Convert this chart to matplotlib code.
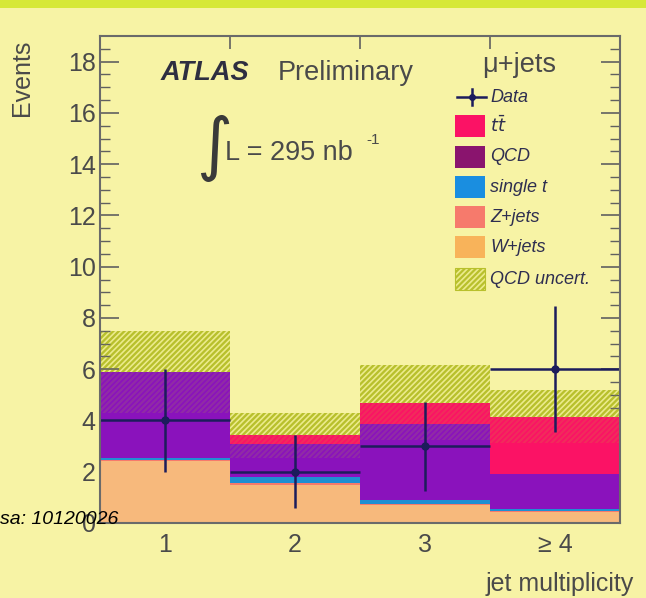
import numpy as np
import matplotlib
matplotlib.use("Agg")
import matplotlib.pyplot as plt
from matplotlib.patches import Rectangle
from matplotlib.lines import Line2D

# jet multiplicity bins
bins = [1, 2, 3, 4]
bin_labels = ["1", "2", "3", "\u2265 4"]

# stacked expectations, bottom to top
wjets = [2.42, 1.50, 0.70, 0.44]
zjets = [0.04, 0.05, 0.04, 0.03]
single_top = [0.08, 0.26, 0.14, 0.06]
qcd = [3.34, 1.27, 2.97, 1.39]
ttbar = [0.02, 0.34, 0.84, 2.23]
qcd_unc = [1.60, 0.89, 1.46, 1.04]

data = [4, 2, 3, 6]

bg = "#f7f3a5"
txt = "#4a4a4a"
plt.rcParams["font.family"] = ["Liberation Sans", "DejaVu Sans"]
plt.rcParams["hatch.linewidth"] = 1.6

fig = plt.figure(figsize=(6.46, 5.98), dpi=100, facecolor=bg)
ax = fig.add_axes([100/646, 1-523/598, 520/646, 487/598])
ax.set_facecolor(bg)

samples = [
    ("W+jets", wjets, "#f7b97c"),
    ("Z+jets", zjets, "#f67a6c"),
    ("single t", single_top, "#1f8fd2"),
    ("QCD", qcd, "#8a12bc"),
    (r"$t\bar{t}$", ttbar, "#fb1265"),
]

x = np.array(bins)
bottom = np.zeros(len(bins))
for name, vals, col in samples:
    ax.bar(x, vals, width=1.0, bottom=bottom, color=col, linewidth=0, zorder=2)
    bottom = bottom + np.array(vals)

# QCD uncertainty band around the total, mostly hidden behind the stack
unc = np.array(qcd_unc)
ax.bar(x, 2*unc, width=1.0, bottom=bottom-unc, facecolor="#eceb8c",
       edgecolor="#b8c02c", hatch="//////", linewidth=0, zorder=1)
ax.bar(x, 2*unc, width=1.0, bottom=bottom-unc, facecolor="none",
       edgecolor="#b8c02c", hatch="//////", linewidth=0, zorder=3, alpha=0.15)

# data points with poisson errors
d = np.array(data, dtype=float)
ax.errorbar(x, d, xerr=0.5, yerr=np.sqrt(d), fmt="o", color="#1c1c5c",
            ms=5, lw=1.8, capsize=0, zorder=5)

ax.set_xlim(0.5, 4.5)
ax.set_ylim(0, 19)
ax.set_yticks(np.arange(0, 19, 2))
ax.set_yticks(np.arange(0, 19, 0.5), minor=True)
ax.set_xticks([1.5, 2.5, 3.5])
ax.set_xticklabels([])
ax.tick_params(axis="y", which="major", direction="in", length=14, width=1.2,
               right=True, labelsize=18, labelcolor=txt, pad=3, color="#606060")
ax.tick_params(axis="y", which="minor", direction="in", length=7, width=1.0,
               right=True, color="#606060")
ax.tick_params(axis="x", which="major", direction="in", length=9, width=1.2,
               top=True, color="#606060")
for sp in ax.spines.values():
    sp.set_color("#6a6a6a")
    sp.set_linewidth(1.5)
    sp.set_zorder(6)

for xi, lab in zip(bins, bin_labels):
    ax.text(xi, -0.85, lab, ha="center", va="center", fontsize=18, color=txt)

fig.text(0.034, 1-40/598, "Events", rotation=90, ha="center", va="top",
         fontsize=18, color=txt)
fig.text(634/646, 1-584/598, "jet multiplicity", ha="right", va="center",
         fontsize=18, color=txt)

# labels inside the frame
fig.text(161/646, 1-73/598, "ATLAS", fontsize=19.5, fontweight="bold",
         style="italic", color="#2e2e40", va="center")
fig.text(278/646, 1-73/598, "Preliminary", fontsize=19.5, color=txt, va="center")
fig.text(482/646, 1-65/598, "\u03bc+jets", fontsize=19.5, color=txt, va="center")
fig.text(196/646, 1-148/598, "\u222b", fontsize=50, color="#3a3a3a",
         va="center", family="DejaVu Sans")
fig.text(225/646, 1-153/598, "L = 295 nb", fontsize=19.5, color=txt, va="center")
fig.text(366/646, 1-140/598, "-1", fontsize=11, color=txt, va="center")

# legend
fig.add_artist(Line2D([457/646, 486/646], [1-97/598]*2, color="#1c1c5c", lw=1.8))
fig.add_artist(Line2D([471.5/646]*2, [1-89/598, 1-105/598], color="#1c1c5c", lw=1.8))
fig.add_artist(Line2D([471.5/646], [1-97/598], marker="o", ms=4, color="#1c1c5c"))
fig.text(490/646, 1-97/598, "Data", fontsize=13, style="italic", color="#2e2e50",
         va="center")
legend_rows = [
    (r"$t\bar{t}$", "#fb1265", None, 126),
    ("QCD", "#8a146e", None, 157),
    ("single t", "#1a8ee0", None, 187),
    ("Z+jets", "#f67a6c", None, 217),
    ("W+jets", "#f8b35a", None, 247),
    ("QCD uncert.", "#eceb8c", "//////", 279),
]
for lab, col, hatch, yc in legend_rows:
    r = Rectangle((455/646, 1-(yc+11)/598), 30/646, 22/598, transform=fig.transFigure,
                  facecolor=col, edgecolor="#b8c02c" if hatch else col,
                  hatch=hatch, linewidth=0.8 if hatch else 0)
    fig.add_artist(r)
    fig.text(490/646, 1-yc/598, lab, fontsize=13, style="italic", color="#2e2e50",
             va="center")

fig.add_artist(Rectangle((0, 1-8/598), 1, 8/598, transform=fig.transFigure,
                         facecolor="#d6e838", linewidth=0))
fig.text(0.0, 1-520/598, "sa: 10120026", fontsize=14, style="italic",
         color="black", va="center", ha="left")

fig.savefig("out.png", dpi=100, facecolor=bg)
